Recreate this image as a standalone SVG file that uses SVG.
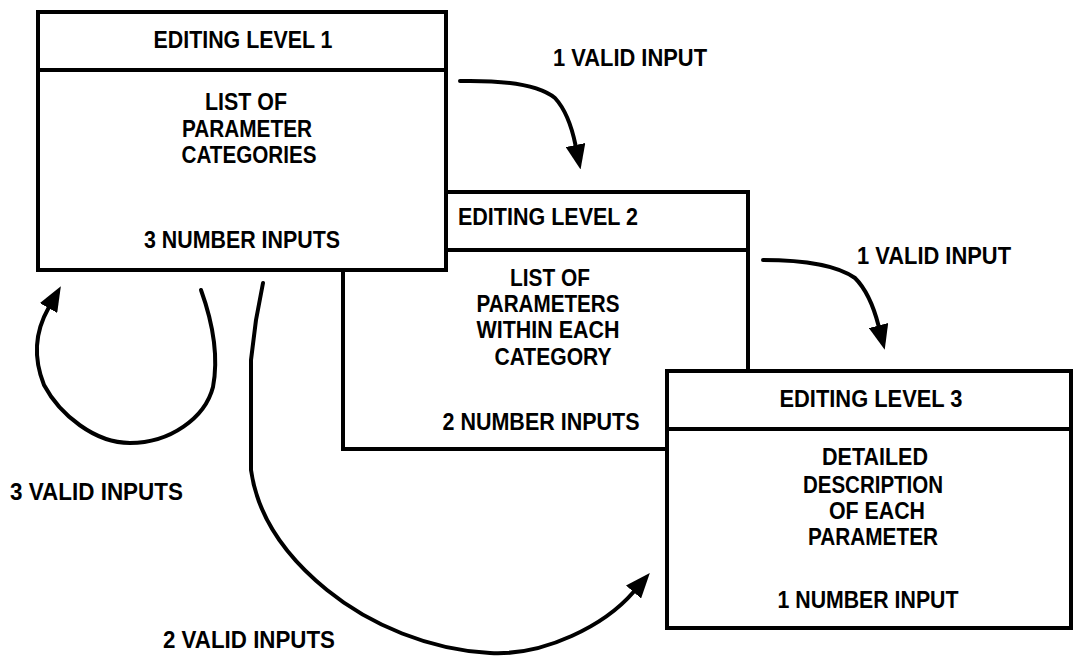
<svg xmlns="http://www.w3.org/2000/svg" width="1073" height="658" viewBox="0 0 1073 658">
  <style>
    .box { fill: #ffffff; stroke: #000000; stroke-width: 4; }
    .div { stroke: #000000; stroke-width: 4; fill: none; }
    .t { font-family: "Liberation Sans", Arial, sans-serif; font-weight: bold; font-size: 23.5px; fill: #000000; text-anchor: middle; }
    .tl { font-family: "Liberation Sans", Arial, sans-serif; font-weight: bold; font-size: 23.5px; fill: #000000; text-anchor: start; }
    .conn { fill: none; stroke: #000000; stroke-width: 4; stroke-linecap: round; stroke-linejoin: round; }
  </style>
  <defs>
    <marker id="ah" viewBox="0 -10 25 20" refX="0" refY="0" markerWidth="25" markerHeight="20" markerUnits="userSpaceOnUse" orient="auto">
      <path d="M0,-10 L25,0 L0,10 Z" fill="#000000"/>
    </marker>
  </defs>
  <rect width="1073" height="658" fill="#ffffff"/>

  <g id="level2">
    <rect class="box" x="343" y="192" width="405" height="257"/>
    <line class="div" x1="343" y1="250" x2="748" y2="250"/>
    <text class="t" x="548" y="225" textLength="180" lengthAdjust="spacingAndGlyphs">EDITING LEVEL 2</text>
    <text class="t" x="550" y="286" textLength="80" lengthAdjust="spacingAndGlyphs">LIST OF</text>
    <text class="t" x="548" y="312" textLength="143" lengthAdjust="spacingAndGlyphs">PARAMETERS</text>
    <text class="t" x="548" y="338" textLength="143" lengthAdjust="spacingAndGlyphs">WITHIN EACH</text>
    <text class="t" x="553" y="365" textLength="117" lengthAdjust="spacingAndGlyphs">CATEGORY</text>
    <text class="t" x="541" y="430" textLength="197" lengthAdjust="spacingAndGlyphs">2 NUMBER INPUTS</text>
  </g>

  <g id="level1">
    <rect class="box" x="38" y="12" width="408" height="258"/>
    <line class="div" x1="38" y1="70" x2="446" y2="70"/>
    <text class="t" x="243" y="48" textLength="179" lengthAdjust="spacingAndGlyphs">EDITING LEVEL 1</text>
    <text class="t" x="246" y="110" textLength="82" lengthAdjust="spacingAndGlyphs">LIST OF</text>
    <text class="t" x="247" y="137" textLength="130" lengthAdjust="spacingAndGlyphs">PARAMETER</text>
    <text class="t" x="249" y="163" textLength="135" lengthAdjust="spacingAndGlyphs">CATEGORIES</text>
    <text class="t" x="242" y="248" textLength="196" lengthAdjust="spacingAndGlyphs">3 NUMBER INPUTS</text>
  </g>

  <g id="level3">
    <rect class="box" x="667" y="371" width="404" height="257"/>
    <line class="div" x1="667" y1="429" x2="1071" y2="429"/>
    <text class="t" x="871" y="407" textLength="183" lengthAdjust="spacingAndGlyphs">EDITING LEVEL 3</text>
    <text class="t" x="875" y="465" textLength="106" lengthAdjust="spacingAndGlyphs">DETAILED</text>
    <text class="t" x="873" y="493" textLength="140" lengthAdjust="spacingAndGlyphs">DESCRIPTION</text>
    <text class="t" x="877" y="519" textLength="96" lengthAdjust="spacingAndGlyphs">OF EACH</text>
    <text class="t" x="873" y="545" textLength="130" lengthAdjust="spacingAndGlyphs">PARAMETER</text>
    <text class="t" x="868" y="608" textLength="181" lengthAdjust="spacingAndGlyphs">1 NUMBER INPUT</text>
  </g>

  <g id="connectors">
    <path class="conn" marker-end="url(#ah)" d="M460,81 C510,80 540,86 555,98 C566,110 572,128 575.5,145"/>
    <path class="conn" marker-end="url(#ah)" d="M763,260 C800,260 835,264 855,278 C867,290 874,308 878.5,325.5"/>
    <path class="conn" marker-end="url(#ah)" d="M201,290 C210,315 220,350 213,387 C205,418 170,443 130,443 C95,443 60,415 44,385 C32,355 36,330 48.5,308"/>
    <path class="conn" marker-end="url(#ah)" d="M263,283 L256,320 L251,360 L251,470 C258,520 290,560 327,590 C370,625 430,650 490,653 C545,656 605,625 633.5,592"/>
  </g>

  <g id="labels">
    <text class="tl" x="553" y="66" textLength="154" lengthAdjust="spacingAndGlyphs">1 VALID INPUT</text>
    <text class="tl" x="857" y="264" textLength="154" lengthAdjust="spacingAndGlyphs">1 VALID INPUT</text>
    <text class="tl" x="10" y="500" textLength="173" lengthAdjust="spacingAndGlyphs">3 VALID INPUTS</text>
    <text class="tl" x="163" y="648" textLength="172" lengthAdjust="spacingAndGlyphs">2 VALID INPUTS</text>
  </g>
</svg>
